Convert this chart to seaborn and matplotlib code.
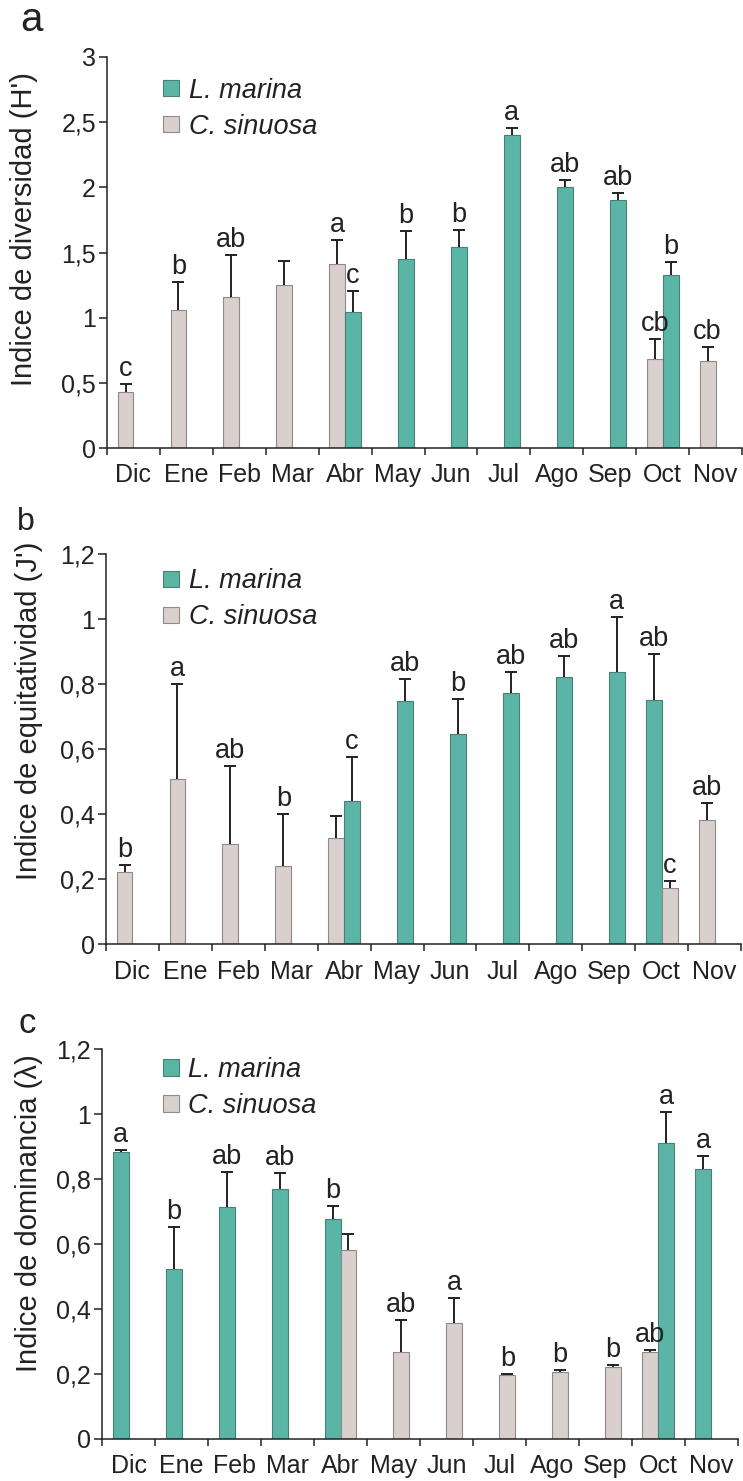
import numpy as np
import pandas as pd
import matplotlib
matplotlib.use("Agg")
import matplotlib.pyplot as plt
from matplotlib.patches import Patch
from matplotlib.ticker import FixedLocator
import seaborn as sns

nan = np.nan
months = ['Dic', 'Ene', 'Feb', 'Mar', 'Abr', 'May', 'Jun', 'Jul', 'Ago', 'Sep', 'Oct', 'Nov']
species = ['L. marina', 'C. sinuosa']

# ---- Panel a: Indice de diversidad (H')
a_lm = [nan, nan, nan, nan, 1.044, 1.453, 1.54, 2.405, 2.003, 1.903, 1.328, nan]
a_lm_err = [nan, nan, nan, nan, 0.161, 0.21, 0.133, 0.053, 0.051, 0.054, 0.102, nan]
a_lm_let = ['', '', '', '', 'c', 'b', 'b', 'a', 'ab', 'ab', 'b', '']
a_cs = [0.43, 1.057, 1.16, 1.254, 1.415, nan, nan, nan, nan, nan, 0.68, 0.668]
a_cs_err = [0.06, 0.213, 0.32, 0.184, 0.184, nan, nan, nan, nan, nan, 0.154, 0.105]
a_cs_let = ['c', 'b', 'ab', '', 'a', '', '', '', '', '', 'cb', 'cb']

# ---- Panel b: Indice de equitatividad (J')
b_lm = [nan, nan, nan, nan, 0.442, 0.747, 0.647, 0.772, 0.821, 0.836, 0.751, nan]
b_lm_err = [nan, nan, nan, nan, 0.133, 0.069, 0.106, 0.064, 0.065, 0.171, 0.142, nan]
b_lm_let = ['', '', '', '', 'c', 'ab', 'b', 'ab', 'ab', 'a', 'ab', '']
b_cs = [0.221, 0.507, 0.307, 0.242, 0.326, nan, nan, nan, nan, nan, 0.172, 0.382]
b_cs_err = [0.023, 0.292, 0.242, 0.159, 0.069, nan, nan, nan, nan, nan, 0.022, 0.051]
b_cs_let = ['b', 'a', 'ab', 'b', '', '', '', '', '', '', 'c', 'ab']

# ---- Panel c: Indice de dominancia (lambda)
c_lm = [0.884, 0.522, 0.713, 0.768, 0.678, nan, nan, nan, nan, nan, 0.91, 0.832]
c_lm_err = [0.004, 0.129, 0.109, 0.049, 0.039, nan, nan, nan, nan, nan, 0.095, 0.04]
c_lm_let = ['a', 'b', 'ab', 'ab', 'b', '', '', '', '', '', 'a', 'a']
c_cs = [nan, nan, nan, nan, 0.582, 0.267, 0.357, 0.197, 0.206, 0.223, 0.269, nan]
c_cs_err = [nan, nan, nan, nan, 0.049, 0.099, 0.078, 0.004, 0.005, 0.004, 0.004, nan]
c_cs_let = ['', '', '', '', '', 'ab', 'a', 'b', 'b', 'b', 'ab', '']

panels = [
    dict(tag='a', lm=a_lm, lm_err=a_lm_err, lm_let=a_lm_let, cs=a_cs, cs_err=a_cs_err, cs_let=a_cs_let,
         first='C. sinuosa', swapped=[], ylabel="Indice de diversidad (H')",
         yticks=[0, 0.5, 1, 1.5, 2, 2.5, 3], yticklabels=['0', '0,5', '1', '1,5', '2', '2,5', '3'], ymax=3),
    dict(tag='b', lm=b_lm, lm_err=b_lm_err, lm_let=b_lm_let, cs=b_cs, cs_err=b_cs_err, cs_let=b_cs_let,
         first='C. sinuosa', swapped=['Oct'], ylabel="Indice de equitatividad (J')",
         yticks=[0, 0.2, 0.4, 0.6, 0.8, 1, 1.2], yticklabels=['0', '0,2', '0,4', '0,6', '0,8', '1', '1,2'], ymax=1.2),
    dict(tag='c', lm=c_lm, lm_err=c_lm_err, lm_let=c_lm_let, cs=c_cs, cs_err=c_cs_err, cs_let=c_cs_let,
         first='L. marina', swapped=['Oct'], ylabel="Indice de dominancia (λ)",
         yticks=[0, 0.2, 0.4, 0.6, 0.8, 1, 1.2], yticklabels=['0', '0,2', '0,4', '0,6', '0,8', '1', '1,2'], ymax=1.2),
]

colors = {'L. marina': '#5bb5a6', 'C. sinuosa': '#d9cfcd'}
edges = {'L. marina': '#4a7f76', 'C. sinuosa': '#8f8a89'}
ink = '#222222'

sns.set_style('ticks')
plt.rcParams['font.family'] = ['Liberation Sans', 'DejaVu Sans']

fig = plt.figure(figsize=(7.43, 14.81), dpi=100)

rects = {
    'a': [107 / 743, (1481 - 448) / 1481, 635 / 743, 391 / 1481],
    'b': [106 / 743, (1481 - 944.3) / 1481, 635 / 743, 390.3 / 1481],
    'c': [102.3 / 743, (1481 - 1439) / 1481, 635.3 / 743, 390 / 1481],
}
legend_pos = {'a': (0.088, 0.947), 'b': (0.09, 0.963), 'c': (0.095, 0.979)}
label_xy = {'a': (-0.108, 0.56), 'b': (-0.099, 0.598), 'c': (-0.094, 0.58)}
panel_letter = {'a': (20, 31, 29), 'b': (17, 530, 23), 'c': (18, 1033, 25)}

TICK = 18
ANN = 19.5
YLAB = 21
LEG = 19.5

for P in panels:
    tag = P['tag']
    rows = []
    for i, m in enumerate(months):
        for sp, vals, errs, lets in (('L. marina', P['lm'], P['lm_err'], P['lm_let']),
                                     ('C. sinuosa', P['cs'], P['cs_err'], P['cs_let'])):
            if np.isnan(vals[i]):
                continue
            left_sp = P['first']
            if m in P['swapped']:
                left_sp = 'L. marina' if left_sp == 'C. sinuosa' else 'C. sinuosa'
            slot = 'izq' if sp == left_sp else 'der'
            rows.append(dict(month=m, species=sp, value=vals[i], err=errs[i], letter=lets[i], slot=slot))
    df = pd.DataFrame(rows)

    ax = fig.add_axes(rects[tag])
    sns.barplot(data=df, x='month', y='value', hue='slot', hue_order=['izq', 'der'],
                order=months, dodge=True, width=0.6, errorbar=None, legend=False,
                palette=['#cccccc', '#cccccc'], ax=ax)

    for p in list(ax.patches):
        cx = p.get_x() + p.get_width() / 2
        mi = int(round(cx))
        slot = 'izq' if cx < mi else 'der'
        sel = df[(df['month'] == months[mi]) & (df['slot'] == slot)]
        if sel.empty:
            continue
        r = sel.iloc[0]
        p.set_facecolor(colors[r['species']])
        p.set_edgecolor(edges[r['species']])
        p.set_linewidth(0.8)
        top = p.get_height()
        cont = ax.errorbar([cx], [top], yerr=[[0], [r['err']]], fmt='none', ecolor=ink,
                           elinewidth=1.4, capsize=4.5, capthick=1.4, zorder=3)
        caps = cont.lines[1]
        if len(caps) > 0:
            caps[0].set_visible(False)
        if r['letter']:
            ax.annotate(r['letter'], (cx, top + r['err']), xytext=(0, 1.5), textcoords='offset points',
                        ha='center', va='bottom', fontsize=ANN, color=ink)

    ax.set_xlim(-0.5, len(months) - 0.5)
    ax.set_ylim(0, P['ymax'])
    ax.set_yticks(P['yticks'])
    ax.set_yticklabels(P['yticklabels'])
    ax.set_xticks(range(len(months)))
    ax.set_xticklabels(months)
    ax.xaxis.set_minor_locator(FixedLocator(np.arange(-0.5, len(months), 1.0)))
    ax.tick_params(axis='x', which='major', length=0, pad=11, labelsize=TICK, colors=ink)
    ax.tick_params(axis='x', which='minor', length=5, width=1.1, color=ink, direction='out')
    ax.tick_params(axis='y', which='major', length=6, width=1.1, pad=2, labelsize=TICK,
                   colors=ink, direction='out')
    for s in ['top', 'right']:
        ax.spines[s].set_visible(False)
    for s in ['left', 'bottom']:
        ax.spines[s].set_linewidth(1.1)
        ax.spines[s].set_color(ink)
    ax.set_xlabel('')
    ax.set_ylabel(P['ylabel'], fontsize=YLAB, color=ink)
    ax.yaxis.set_label_coords(*label_xy[tag])

    handles = [Patch(facecolor=colors[s], edgecolor=edges[s], linewidth=0.8) for s in species]
    leg = ax.legend(handles, species, loc='upper left', bbox_to_anchor=legend_pos[tag],
                    frameon=False, borderpad=0, borderaxespad=0, handlelength=0.6,
                    handleheight=0.55, handletextpad=0.35, labelspacing=0.37,
                    prop=dict(size=LEG, style='italic'))
    for t in leg.get_texts():
        t.set_color(ink)

    lx, ly, lsz = panel_letter[tag]
    fig.text(lx / 743, 1 - ly / 1481, tag, fontsize=lsz, ha='left', va='baseline', color=ink)

fig.savefig('out.png', dpi=100)
